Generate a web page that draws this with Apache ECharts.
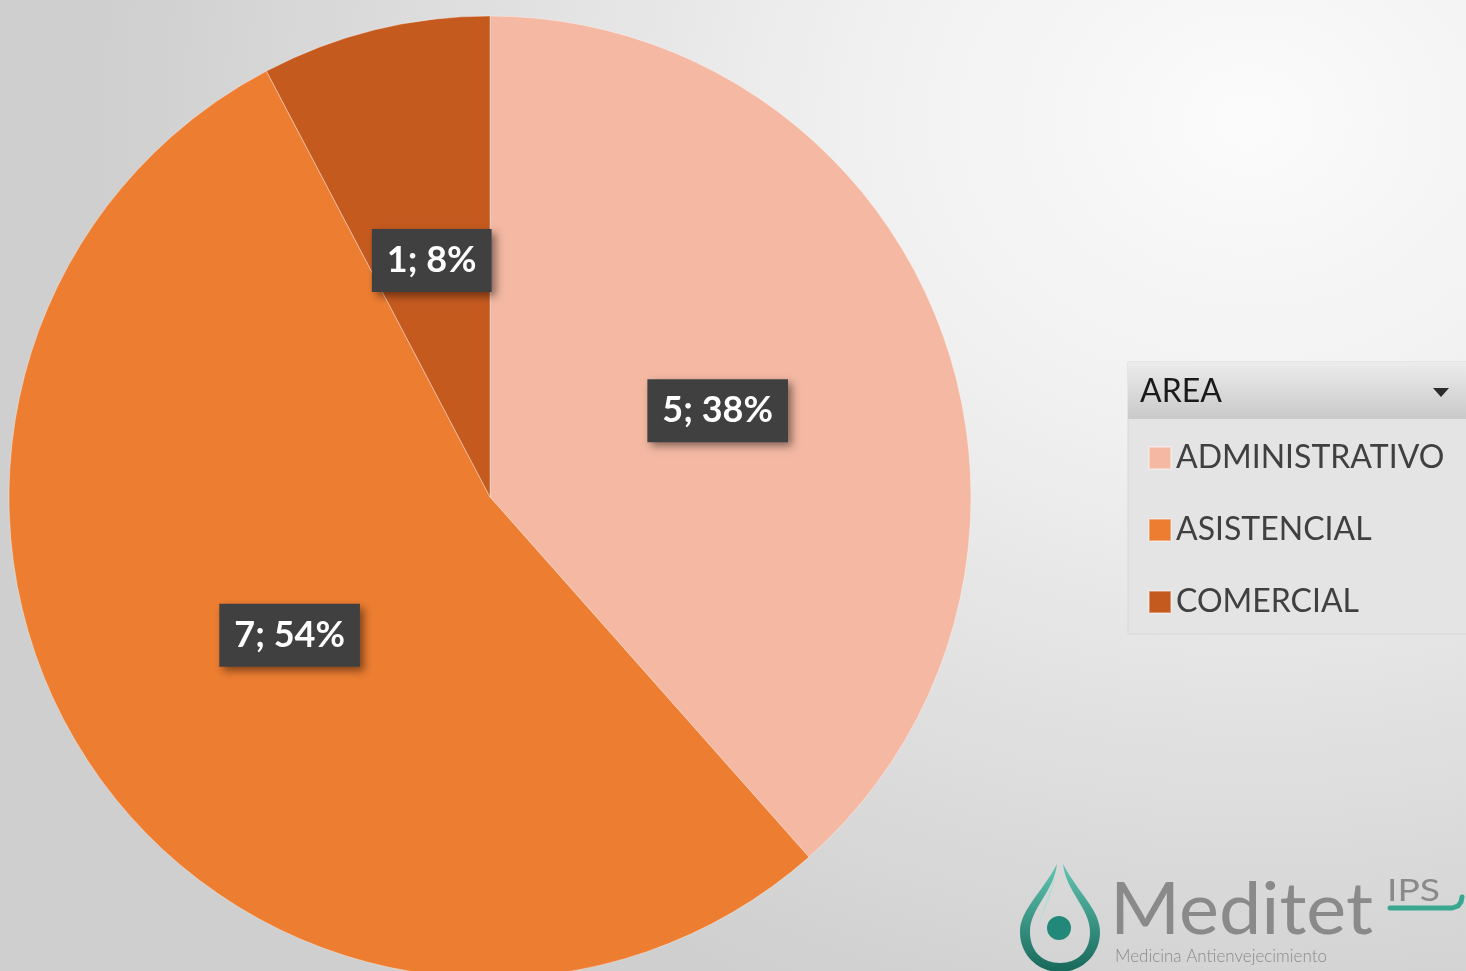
<!DOCTYPE html>
<html>
<head>
<meta charset="utf-8">
<script src="https://cdn.jsdelivr.net/npm/echarts@6/dist/echarts.min.js"></script>
<style>
  html, body { margin: 0; padding: 0; }
  #chart {
    width: 1466px;
    height: 971px;
    background: radial-gradient(ellipse 1150px 950px at 1250px 120px, #fbfbfb 0%, #f0f0f0 35%, #dedede 70%, #cfcfcf 100%);
  }
</style>
</head>
<body>
<div id="chart"></div>
<script>
// datos del grafico
var categories = ['ADMINISTRATIVO', 'ASISTENCIAL', 'COMERCIAL']
var values = [5, 7, 1]
var colors = ['#f4b8a3', '#ed7d31', '#c55a1f']
var legendTitle = 'AREA'

var chart = echarts.init(document.getElementById('chart'))

var total = values.reduce(function (a, b) { return a + b }, 0)
var pieData = categories.map(function (name, i) {
  return { name: name, value: values[i], itemStyle: { color: colors[i] } }
})

// icono del logo (gota)
var dropSvg = '<svg xmlns="http://www.w3.org/2000/svg" width="82" height="108" viewBox="0 0 82 108">' +
  '<defs><linearGradient id="g" x1="0" y1="0" x2="0" y2="1">' +
  '<stop offset="0" stop-color="#62c6b2"/><stop offset="1" stop-color="#17685a"/></linearGradient></defs>' +
  '<path d="M38 0 C22 30 1 46 1 68 C1 92 20 108 41 108 C62 108 81 92 81 68 C81 46 60 30 44 0 C47 28 71 44 71 68 C71 88 58 99 41 99 C24 99 11 88 11 68 C11 44 35 28 38 0 Z" fill="url(#g)"/>' +
  '<path d="M36 10 C30 35 20 50 20 66 C20 50 34 36 36 10 Z" fill="#9fe0d2" opacity="0.6"/>' +
  '<circle cx="40" cy="64" r="12" fill="#22897a"/></svg>'
var dropUrl = 'data:image/svg+xml;charset=utf-8,' + encodeURIComponent(dropSvg)

chart.setOption({
  animation: false,
  legend: {
    orient: 'vertical',
    left: 1148,
    top: 440,
    padding: 0,
    itemWidth: 22,
    itemHeight: 22,
    itemGap: 36,
    icon: 'rect',
    data: categories,
    textStyle: {
      fontFamily: 'Lato',
      fontSize: 32,
      color: '#404040',
      lineHeight: 36
    }
  },
  graphic: [
    // caja de la leyenda
    {
      type: 'rect',
      z: -1,
      shape: { x: 1128, y: 362, width: 340, height: 272 },
      style: { fill: '#e4e4e4', stroke: '#d8d8d8', lineWidth: 1 }
    },
    {
      type: 'rect',
      z: -1,
      shape: { x: 1128, y: 362, width: 340, height: 57 },
      style: {
        fill: new echarts.graphic.LinearGradient(0, 0, 0, 1, [
          { offset: 0, color: '#ececec' },
          { offset: 1, color: '#c9c9c9' }
        ])
      }
    },
    {
      type: 'text',
      x: 1140,
      y: 376,
      style: { text: legendTitle, fontFamily: 'Lato', fontSize: 32, fill: '#1a1a1a' }
    },
    {
      type: 'polygon',
      shape: { points: [[1433, 388], [1449, 388], [1441, 397]] },
      style: { fill: '#2b2b2b' }
    },
    // logo
    {
      type: 'image',
      x: 1019,
      y: 864,
      style: { image: dropUrl, width: 82, height: 108 }
    },
    {
      type: 'text',
      x: 1110,
      y: 875,
      scaleX: 1.05,
      style: { text: 'Meditet', fontFamily: 'Lato', fontSize: 72, fill: '#8a8a8a' }
    },
    {
      type: 'text',
      x: 1387,
      y: 875,
      scaleX: 1.2,
      style: { text: 'IPS', fontFamily: 'Lato', fontSize: 31, fill: '#8a8a8a' }
    },
    {
      type: 'polyline',
      shape: { points: [[1390, 908], [1452, 908], [1458, 906], [1461, 902], [1462, 897]] },
      style: { fill: null, stroke: '#3aa891', lineWidth: 5, lineCap: 'round' }
    },
    {
      type: 'text',
      x: 1115,
      y: 948,
      style: { text: 'Medicina Antienvejecimiento', fontFamily: 'Lato', fontWeight: 300, fontSize: 17, fill: '#8a8a8a' }
    }
  ],
  series: [
    {
      type: 'pie',
      center: [490, 497],
      radius: 481,
      startAngle: 90,
      clockwise: true,
      data: pieData,
      itemStyle: {
        borderColor: 'rgba(255,255,255,0.35)',
        borderWidth: 1
      },
      label: {
        show: true,
        position: 'inside',
        formatter: function (p) {
          return p.value + '; ' + Math.round(p.value / total * 100) + '%'
        },
        fontFamily: 'Lato',
        fontWeight: 'bold',
        fontSize: 36,
        color: '#ffffff',
        backgroundColor: '#404040',
        padding: [14, 15, 13, 15],
        shadowColor: 'rgba(0,0,0,0.45)',
        shadowBlur: 8,
        shadowOffsetX: 4,
        shadowOffsetY: 4
      },
      labelLine: { show: false },
      emphasis: { disabled: true }
    }
  ]
})
</script>
</body>
</html>
